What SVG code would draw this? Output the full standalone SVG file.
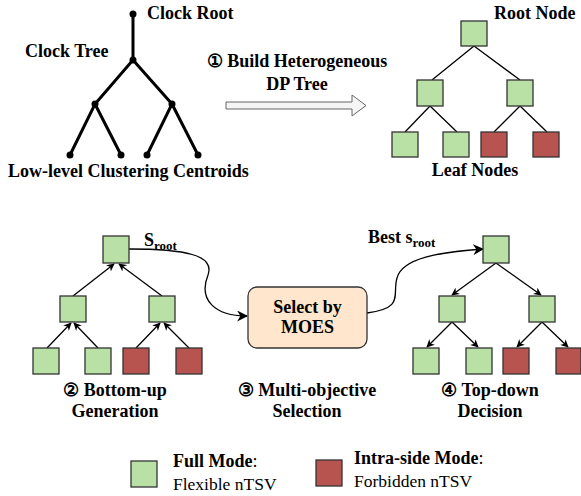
<svg xmlns="http://www.w3.org/2000/svg" width="581" height="496" viewBox="0 0 581 496" font-family="Liberation Serif, serif">
<defs>
<style>
.b{font-family:"Liberation Serif",serif;font-weight:bold;font-size:18px;fill:#000}
.r{font-family:"Liberation Serif",serif;font-size:17.5px;fill:#000}
.sub{font-size:13px}
.g{fill:#B9E0A5;stroke:#333;stroke-width:1.3}
.red{fill:#B85450;stroke:#333;stroke-width:1.3}
.ct{stroke:#000;stroke-width:3;fill:none}
.tl{stroke:#000;stroke-width:1.3;fill:none}
.ar{stroke:#000;stroke-width:1.3;fill:none;marker-end:url(#ah)}
.cv{stroke:#000;stroke-width:1.3;fill:none;marker-end:url(#ahb)}
</style>
<marker id="ah" viewBox="0 0 10 10" refX="9" refY="5" markerWidth="8" markerHeight="8" markerUnits="userSpaceOnUse" orient="auto">
<path d="M0,0 L10,5 L0,10 L3,5 Z" fill="#000"/>
</marker>
<marker id="ahb" viewBox="0 0 10 10" refX="9" refY="5" markerWidth="11" markerHeight="11" markerUnits="userSpaceOnUse" orient="auto">
<path d="M0,0 L10,5 L0,10 L3,5 Z" fill="#000"/>
</marker>
</defs>

<g id="clock-tree">
<path class="ct" d="M133,14 V60 L95,104 L70,155 M95,104 L121,155 M133,60 L172,104 L147,155 M172,104 L198,155"/>
<g fill="#000">
<circle cx="133" cy="14" r="3.5"/><circle cx="133" cy="60" r="3.5"/>
<circle cx="95" cy="104" r="3.5"/><circle cx="172" cy="104" r="3.5"/>
<circle cx="70" cy="155" r="3.5"/><circle cx="121" cy="155" r="3.5"/>
<circle cx="147" cy="155" r="3.5"/><circle cx="198" cy="155" r="3.5"/>
</g>
<text class="b" x="147" y="19">Clock Root</text>
<text class="b" x="25" y="57">Clock Tree</text>
<text class="b" x="8" y="177">Low-level Clustering Centroids</text>
</g>

<g id="build-arrow">
<text class="b" x="297" y="67" text-anchor="middle">① Build Heterogeneous</text>
<text class="b" x="297" y="90" text-anchor="middle">DP Tree</text>
<path d="M226,102 H352 V95 L366,105.5 L352,116 V109 H226 Z" fill="#f5f5f5" stroke="#666" stroke-width="1"/>
</g>

<g id="dp-tree">
<path class="tl" d="M474,46 L432,80 M474,46 L520,80 M430,106 L405,132 M430,106 L457,132 M520,106 L494,132 M520,106 L547,132"/>
<rect class="g" x="461" y="21" width="26" height="25"/>
<rect class="g" x="417" y="80" width="26" height="26"/>
<rect class="g" x="507" y="80" width="26" height="26"/>
<rect class="g" x="392" y="132" width="26" height="25"/>
<rect class="g" x="443" y="132" width="26" height="25"/>
<rect class="red" x="481" y="132" width="26" height="25"/>
<rect class="red" x="533" y="132" width="26" height="25"/>
<text class="b" x="494" y="19">Root Node</text>
<text class="b" x="475" y="176" text-anchor="middle">Leaf Nodes</text>
</g>

<g id="connectors">
<path class="ar" d="M47,348 L71,323"/>
<path class="ar" d="M98,348 L74,323"/>
<path class="ar" d="M136,348 L160,323"/>
<path class="ar" d="M189,348 L164,323"/>
<path class="ar" d="M73,296 L114,264"/>
<path class="ar" d="M162,296 L119,264"/>
<path class="ar" d="M496,263 L452,295"/>
<path class="ar" d="M496,263 L541,295"/>
<path class="ar" d="M452,322 L427,347"/>
<path class="ar" d="M452,322 L478,347"/>
<path class="ar" d="M542,322 L517,347"/>
<path class="ar" d="M542,322 L568,347"/>
<path class="cv" d="M129,249 C185,249 215,255 208,275 C198,300 215,316 247,316"/>
<path class="cv" d="M367,313 C405,308 392,295 397,278 C402,258 440,252 483,249"/>
</g>

<g id="bottom-up">
<rect class="g" x="103" y="236" width="26" height="27"/>
<rect class="g" x="60" y="296" width="26" height="26"/>
<rect class="g" x="149" y="296" width="26" height="26"/>
<rect class="g" x="33" y="348" width="26" height="26"/>
<rect class="g" x="85" y="348" width="26" height="26"/>
<rect class="red" x="123" y="348" width="26" height="26"/>
<rect class="red" x="176" y="348" width="26" height="26"/>
<text class="b" x="144" y="246">S<tspan class="sub" dy="4">root</tspan></text>
<text class="b" x="115" y="396" text-anchor="middle">② Bottom-up</text>
<text class="b" x="115" y="417" text-anchor="middle">Generation</text>
</g>

<g id="moes">
<rect x="248" y="287" width="119" height="61" rx="9" fill="#FFE6CC" stroke="#333" stroke-width="1.3"/>
<text class="b" x="307.5" y="313" text-anchor="middle">Select by</text>
<text class="b" x="307.5" y="333" text-anchor="middle">MOES</text>
<text class="b" x="307" y="396" text-anchor="middle">③ Multi-objective</text>
<text class="b" x="307" y="417" text-anchor="middle">Selection</text>
</g>

<g id="top-down">
<rect class="g" x="483" y="236" width="26" height="27"/>
<rect class="g" x="439" y="296" width="26" height="26"/>
<rect class="g" x="529" y="296" width="26" height="26"/>
<rect class="g" x="413" y="348" width="26" height="26"/>
<rect class="g" x="466" y="348" width="26" height="26"/>
<rect class="red" x="503" y="348" width="26" height="26"/>
<rect class="red" x="556" y="348" width="25" height="26"/>
<text class="b" x="368" y="243">Best s<tspan class="sub" dy="4">root</tspan></text>
<text class="b" x="490" y="396" text-anchor="middle">④ Top-down</text>
<text class="b" x="490" y="417" text-anchor="middle">Decision</text>
</g>

<g id="legend">
<rect class="g" x="131" y="461" width="26" height="26"/>
<text class="b" x="173" y="467">Full Mode<tspan font-weight="normal">:</tspan></text>
<text class="r" x="173" y="490">Flexible nTSV</text>
<rect class="red" x="316" y="460" width="26" height="26"/>
<text class="b" x="354" y="464">Intra-side Mode<tspan font-weight="normal">:</tspan></text>
<text class="r" x="354" y="487">Forbidden nTSV</text>
</g>
</svg>
